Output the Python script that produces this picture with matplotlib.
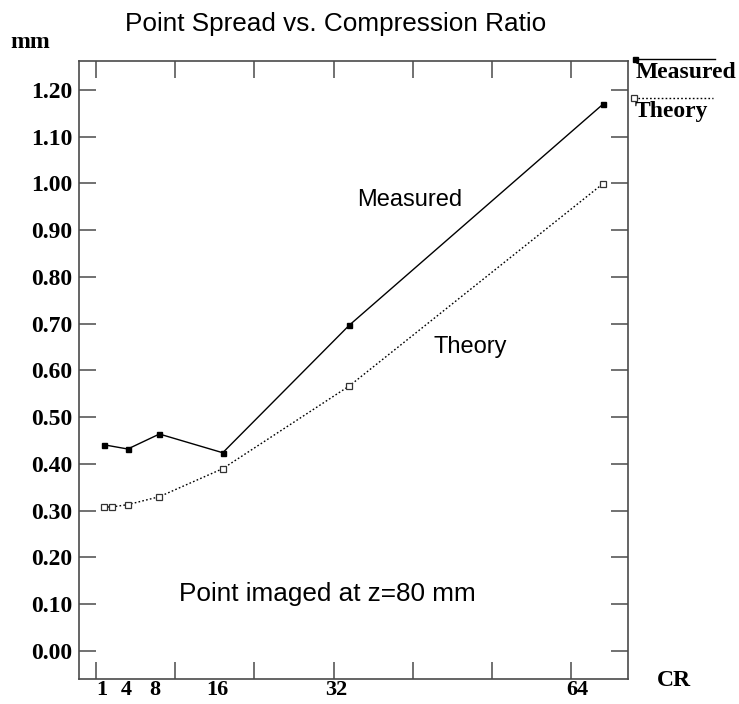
import matplotlib
matplotlib.use("Agg")
import matplotlib.pyplot as plt
from matplotlib.lines import Line2D

# data
cr_measured = [1, 4, 8, 16, 32, 64]
measured = [0.441, 0.432, 0.464, 0.424, 0.697, 1.169]
cr_theory = [1, 2, 4, 8, 16, 32, 64]
theory = [0.308, 0.308, 0.313, 0.330, 0.390, 0.567, 0.999]

x_tick_labels = ["1", "4", "8", "16", "32", "64"]
x_label_pos = [0.75, 3.78, 7.44, 15.27, 30.4, 60.85]
x_tick_pos = [0, 10, 20, 30, 40, 50, 60]
y_ticks = [0.0, 0.1, 0.2, 0.3, 0.4, 0.5, 0.6, 0.7, 0.8, 0.9, 1.0, 1.1, 1.2]

W, H = 739, 704
sans = "Liberation Sans"
serif = "Liberation Serif"
spine_col = "#4a4a4a"

fig = plt.figure(figsize=(W / 100, H / 100), dpi=100)
ax = fig.add_axes([79 / W, 1 - 679 / H, (628 - 79) / W, (679 - 61) / H])

# series
ax.plot(cr_measured, measured, color="black", lw=1.0, marker="s",
        ms=3.6, mfc="black", mec="black")
ax.plot(cr_theory, theory, color="black", lw=1.0, ls=(0, (1.2, 1.6)),
        marker="s", ms=4.2, mfc="white", mec="#333333", mew=0.9)

ax.set_xlim(-2.16, 67.2)
ax.set_ylim(-0.06, 1.262)

for s in ax.spines.values():
    s.set_color(spine_col)
    s.set_linewidth(1.2)

# major ticks: inward on all four sides, no labels on x
ax.set_xticks(x_tick_pos)
ax.set_xticklabels([])
ax.set_yticks(y_ticks)
ax.set_yticklabels(["%.2f" % v for v in y_ticks])
ax.tick_params(which="major", direction="in", length=12, width=1.1,
               color=spine_col, top=True, right=True)
ax.tick_params(axis="y", which="major", pad=5, labelsize=17)

# x labels sit off the tick marks
ax.set_xticks(x_label_pos, labels=x_tick_labels, minor=True)
ax.tick_params(axis="x", which="minor", length=0, pad=1, labelsize=16)

for lab in ax.get_xticklabels(minor=True) + ax.get_yticklabels():
    lab.set_fontfamily(serif)
    lab.set_fontweight("bold")

# axis captions
fig.text(30 / W, 1 - 43 / H, "mm", family=serif, weight="bold",
         fontsize=17, ha="center", va="center")
fig.text(674 / W, 1 - 680 / H, "CR", family=serif, weight="bold",
         fontsize=17, ha="center", va="center")

# title and annotations
fig.text(336 / W, 1 - 31 / H, "Point Spread vs. Compression Ratio",
         family=sans, fontsize=18.8, ha="center", va="baseline")
fig.text(327 / W, 1 - 601 / H, "Point imaged at z=80 mm",
         family=sans, fontsize=18.8, ha="center", va="baseline")
fig.text(410 / W, 1 - 206 / H, "Measured", family=sans, fontsize=17,
         ha="center", va="baseline")
fig.text(470 / W, 1 - 353 / H, "Theory", family=sans, fontsize=17,
         ha="center", va="baseline")

# legend outside on the right
fig.add_artist(Line2D([635 / W, 715 / W], [1 - 59 / H, 1 - 59 / H],
                      color="black", lw=1.0))
fig.add_artist(Line2D([635 / W], [1 - 59 / H], color="black", marker="s",
                      ms=3.6, ls="none"))
fig.text(636 / W, 1 - 78 / H, "Measured", family=serif, weight="bold",
         fontsize=17, ha="left", va="baseline")
fig.add_artist(Line2D([634 / W, 713 / W], [1 - 98 / H, 1 - 98 / H],
                      color="black", lw=1.0, ls=(0, (1.2, 1.6))))
fig.add_artist(Line2D([634 / W], [1 - 98 / H], color="black", marker="s",
                      ms=4.2, mfc="white", mec="#333333", mew=0.9, ls="none"))
fig.text(635 / W, 1 - 117 / H, "Theory", family=serif, weight="bold",
         fontsize=17, ha="left", va="baseline")

fig.savefig("out.png", dpi=100)
